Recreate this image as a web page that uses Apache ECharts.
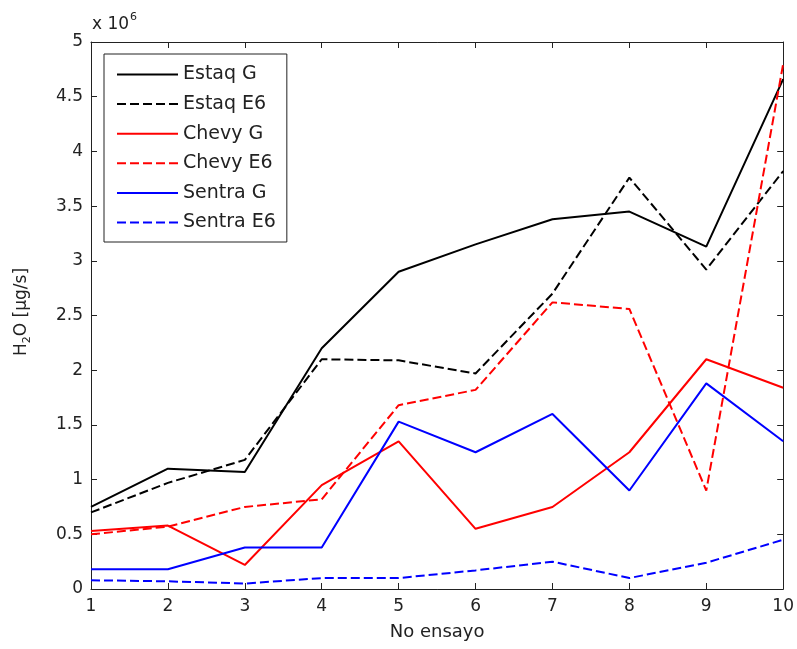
<!DOCTYPE html>
<html>
<head>
<meta charset="utf-8">
<script src="https://cdn.jsdelivr.net/npm/echarts@6/dist/echarts.min.js"></script>
<style>html,body{margin:0;padding:0;background:#fff}#c{width:797px;height:649px}</style>
</head>
<body>
<div id="c"></div>
<script>
// Data (values in units of 10^6 µg/s)
var trials = [1, 2, 3, 4, 5, 6, 7, 8, 9, 10];
var estaqG   = [0.75, 1.10, 1.07, 2.20, 2.90, 3.15, 3.38, 3.45, 3.13, 4.66];
var estaqE6  = [0.70, 0.97, 1.18, 2.10, 2.09, 1.97, 2.70, 3.76, 2.92, 3.82];
var chevyG   = [0.53, 0.58, 0.22, 0.95, 1.35, 0.55, 0.75, 1.25, 2.10, 1.84];
var chevyE6  = [0.50, 0.57, 0.75, 0.82, 1.68, 1.82, 2.62, 2.56, 0.90, 4.80];
var sentraG  = [0.18, 0.18, 0.38, 0.38, 1.53, 1.25, 1.60, 0.90, 1.88, 1.35];
var sentraE6 = [0.08, 0.07, 0.05, 0.10, 0.10, 0.17, 0.25, 0.10, 0.24, 0.45];
var seriesNames = ['Estaq G', 'Estaq E6', 'Chevy G', 'Chevy E6', 'Sentra G', 'Sentra E6'];

var FONT = 'DejaVu Sans';
function pairs(v) { return trials.map(function (t, i) { return [t, v[i]]; }); }
function mk(name, vals, color, dashed) {
  return {
    name: name, type: 'line', data: pairs(vals),
    symbol: 'none', showSymbol: false, animation: false,
    lineStyle: { color: color, width: 2, type: dashed ? [9, 4] : 'solid' },
    itemStyle: { color: color }
  };
}
var chart = echarts.init(document.getElementById('c'));
var axisLine = { show: true, onZero: false, lineStyle: { color: '#222', width: 1 } };
var tick = { show: true, inside: true, length: 6, lineStyle: { color: '#222', width: 1 } };
chart.setOption({
  animation: false,
  backgroundColor: '#fff',
  grid: { left: 91, top: 42, right: 11, bottom: 60, containLabel: false },
  legend: {
    orient: 'vertical', left: 104, top: 54,
    padding: [11, 11, 10, 12],
    itemWidth: 61, itemHeight: 14, itemGap: 10.6,
    backgroundColor: '#fff', borderColor: '#222', borderWidth: 1,
    itemStyle: { opacity: 0 },
    textStyle: { fontFamily: FONT, fontSize: 19, color: '#222' },
    data: seriesNames
  },
  xAxis: [{
    type: 'value', min: 1, max: 10, interval: 1,
    axisLine: axisLine, axisTick: tick,
    axisLabel: { fontFamily: FONT, fontSize: 17, color: '#222', margin: 9 },
    splitLine: { show: false },
    name: 'No ensayo', nameLocation: 'middle', nameGap: 34,
    nameTextStyle: { fontFamily: FONT, fontSize: 18, color: '#222' }
  }, {
    type: 'value', min: 1, max: 10, interval: 1, position: 'top',
    axisLine: axisLine, axisTick: tick,
    axisLabel: { show: false }, splitLine: { show: false }
  }],
  yAxis: [{
    type: 'value', min: 0, max: 5, interval: 0.5,
    axisLine: axisLine, axisTick: tick,
    axisLabel: { fontFamily: FONT, fontSize: 17, color: '#222', margin: 8 },
    splitLine: { show: false }
  }, {
    type: 'value', min: 0, max: 5, interval: 0.5, position: 'right',
    axisLine: axisLine, axisTick: tick,
    axisLabel: { show: false }, splitLine: { show: false }
  }],
  graphic: [{
    type: 'text', left: 92, top: 12,
    style: {
      text: '{b|x 10}{s|6}',
      rich: {
        b: { fontFamily: FONT, fontSize: 17, fill: '#222', verticalAlign: 'bottom' },
        s: { fontFamily: FONT, fontSize: 11, fill: '#222', verticalAlign: 'top', padding: [0, 0, 10, 1] }
      }
    }
  }, {
    type: 'text', x: 22, y: 312, rotation: Math.PI / 2,
    style: {
      text: '{b|H}{s|2}{b|O [µg/s]}',
      align: 'center', verticalAlign: 'middle',
      rich: {
        b: { fontFamily: FONT, fontSize: 17, fill: '#222' },
        s: { fontFamily: FONT, fontSize: 11, fill: '#222', padding: [10, 0, 0, 0] }
      }
    }
  }],
  series: [
    mk(seriesNames[0], estaqG, '#000000', false),
    mk(seriesNames[1], estaqE6, '#000000', true),
    mk(seriesNames[2], chevyG, '#ff0000', false),
    mk(seriesNames[3], chevyE6, '#ff0000', true),
    mk(seriesNames[4], sentraG, '#0000ff', false),
    mk(seriesNames[5], sentraE6, '#0000ff', true)
  ]
});
</script>
</body>
</html>
